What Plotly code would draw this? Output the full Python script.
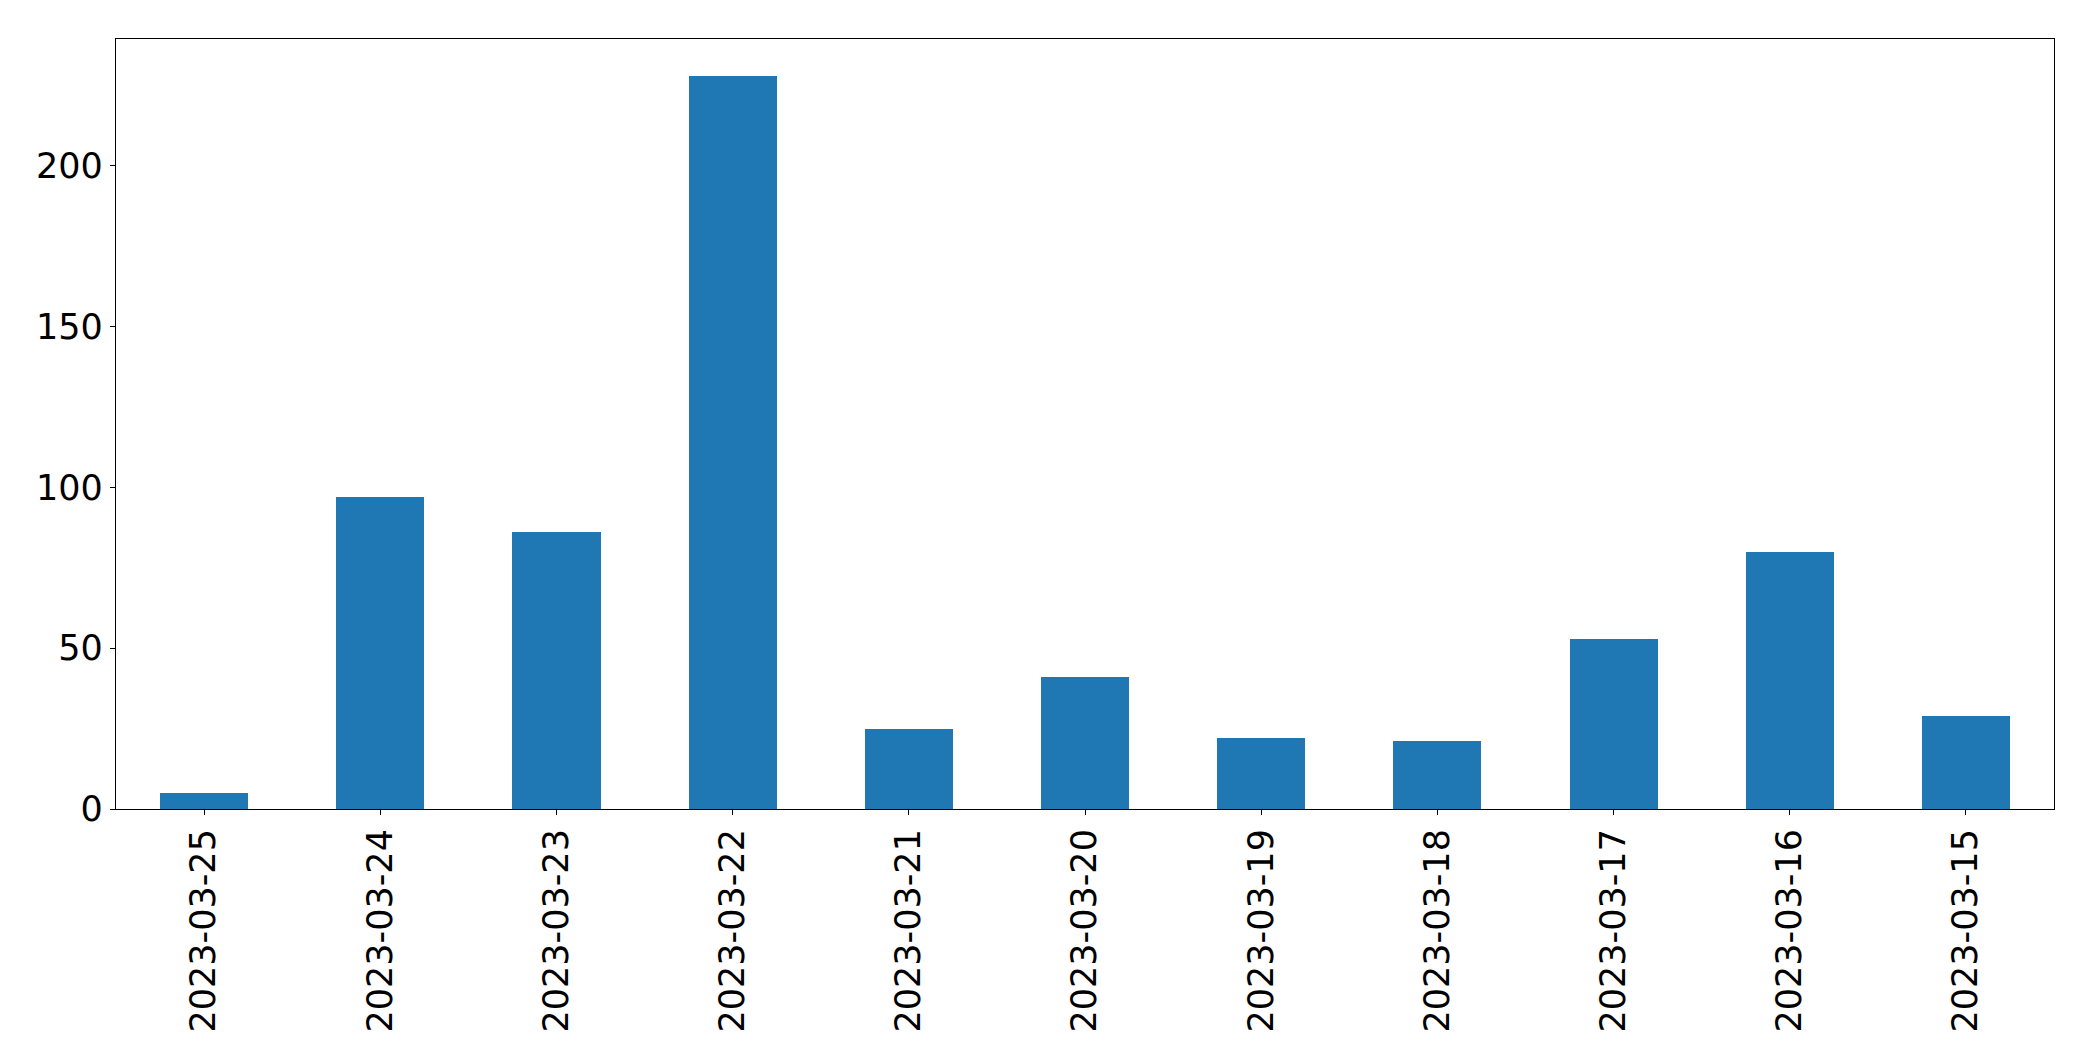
import plotly.graph_objects as go

dates = ["2023-03-25", "2023-03-24", "2023-03-23", "2023-03-22", "2023-03-21",
         "2023-03-20", "2023-03-19", "2023-03-18", "2023-03-17", "2023-03-16",
         "2023-03-15"]
counts = [5, 97, 86, 228, 25, 41, 22, 21, 53, 80, 29]
y_ticks = [0, 50, 100, 150, 200]

fig = go.Figure(go.Bar(x=dates, y=counts, width=0.5, marker_color="#1f77b4",
                       marker_line_width=0))

fig.update_layout(
    width=2093, height=1061,
    margin=dict(l=108, r=47, t=31, b=260, pad=0),
    plot_bgcolor="white", paper_bgcolor="white",
    font=dict(family="DejaVu Sans", size=35, color="black"),
    showlegend=False,
    bargap=0,
)
fig.update_xaxes(
    type="category", range=[-0.5, len(dates) - 0.5],
    tickangle=-90, showline=True, linecolor="black", linewidth=1.2, mirror=True,
    ticks="outside", ticklen=5, tickwidth=1.2, tickcolor="black",
    showgrid=False, zeroline=False, fixedrange=True,
)
fig.update_yaxes(
    range=[0, max(counts) * 1.05], tickvals=y_ticks,
    showline=True, linecolor="black", linewidth=1.2, mirror=True,
    ticks="outside", ticklen=5, tickwidth=1.2, tickcolor="black",
    showgrid=False, zeroline=False, fixedrange=True,
)

fig.write_html("out.html")
